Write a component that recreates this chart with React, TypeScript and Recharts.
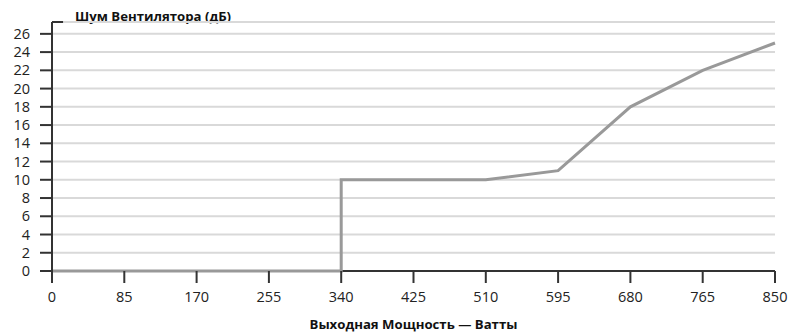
import { LineChart, Line, XAxis, YAxis, CartesianGrid, ReferenceLine } from 'recharts';

// power output (W) and fan noise (dB); 340 appears twice for the vertical jump
const watts = [0, 85, 170, 255, 340, 340, 425, 510, 595, 680, 765, 850];
const noise = [0, 0, 0, 0, 0, 10, 10, 10, 11, 18, 22, 25];
const xTicks = [0, 85, 170, 255, 340, 425, 510, 595, 680, 765, 850];
const yTicks = [0, 2, 4, 6, 8, 10, 12, 14, 16, 18, 20, 22, 24, 26];

const data = watts.map((w, i) => ({ w, db: noise[i] }));

const axisColor = '#333';
const font = '"Open Sans", sans-serif';

export default function App() {
  return (
    <div style={{ position: 'relative', width: 792, height: 334, fontFamily: font }}>
      <style>{'body{margin:0}'}</style>
      <div
        style={{
          position: 'absolute',
          left: 75,
          top: 7,
          fontSize: 13.2,
          fontWeight: 700,
          color: '#111',
          whiteSpace: 'nowrap',
        }}
      >
        Шум Вентилятора (дБ)
      </div>
      <LineChart width={792} height={334} data={data} margin={{ top: 22, right: 17, left: 0, bottom: 0 }}>
        <CartesianGrid horizontal vertical={false} stroke="#d9d9d9" strokeWidth={2} />
        <XAxis
          dataKey="w"
          type="number"
          domain={[0, 850]}
          ticks={xTicks}
          interval={0}
          height={63}
          tickSize={12}
          tickMargin={9}
          axisLine={false}
          stroke={axisColor}
          strokeWidth={2}
          tick={{ fontSize: 14.5, fill: '#222', fontFamily: font, fontWeight: 500 }}
          label={{
            value: 'Выходная Мощность — Ватты',
            position: 'insideBottom',
            offset: 5,
            fontSize: 13.2,
            fontWeight: 700,
            fill: '#111',
            fontFamily: font,
          }}
        />
        <YAxis
          type="number"
          domain={[0, 27.3]}
          ticks={yTicks}
          interval={0}
          width={52}
          tickSize={12}
          tickMargin={10}
          stroke={axisColor}
          strokeWidth={2}
          tick={{ fontSize: 14.5, fill: '#222', fontFamily: font, fontWeight: 500 }}
        />
        <ReferenceLine y={0} stroke={axisColor} strokeWidth={2} />
        <ReferenceLine
          segment={[
            { x: 0, y: 27.3 },
            { x: 13, y: 27.3 },
          ]}
          stroke={axisColor}
          strokeWidth={2}
        />
        <Line
          type="linear"
          dataKey="db"
          stroke="#999"
          strokeWidth={3}
          dot={false}
          isAnimationActive={false}
        />
      </LineChart>
    </div>
  );
}
